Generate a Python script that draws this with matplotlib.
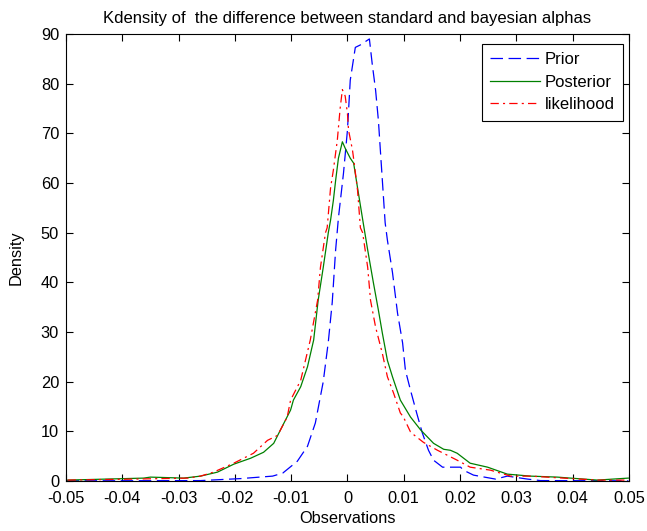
import matplotlib
matplotlib.use("Agg")
import matplotlib.pyplot as plt

plt.rcParams['font.family'] = ['Liberation Sans', 'DejaVu Sans']
plt.rcParams['lines.scale_dashes'] = False

# Prior (blue dashed)
prior_x = [-0.0499, -0.0261, -0.0190, -0.0133, -0.0115, -0.0089, -0.0071, -0.0057,
           -0.0043, -0.0034, -0.0027, -0.0021, -0.0016, -0.0007, 0.0, 0.0005, 0.0014,
           0.0023, 0.0039, 0.0044, 0.0050, 0.0055, 0.0060, 0.0067, 0.0071, 0.0080,
           0.0089, 0.0098, 0.0103, 0.0112, 0.0123, 0.0133, 0.0144, 0.0153, 0.0169,
           0.0201, 0.0206, 0.0224, 0.0263, 0.0284, 0.0320, 0.0343, 0.0499]
prior_y = [0.05, 0.1, 0.5, 1.0, 1.6, 4.0, 7.0, 11.7,
           20.0, 28.0, 36.0, 46.5, 53.0, 62.0, 70.6, 80.7, 87.3,
           87.8, 89.0, 84.0, 78.7, 72.6, 64.0, 52.0, 48.5, 42.0,
           33.8, 27.8, 22.3, 18.3, 13.7, 9.7, 6.2, 4.2, 2.8,
           2.8, 2.2, 1.2, 0.4, 1.0, 0.4, 0.1, 0.05]

# Posterior (green solid)
post_x = [-0.0497, -0.0362, -0.0350, -0.0291, -0.0261, -0.0231, -0.0202, -0.0172,
          -0.0149, -0.0131, -0.0119, -0.0101, -0.0096, -0.0083, -0.0071, -0.0060,
          -0.0052, -0.0043, -0.0034, -0.0030, -0.0025, -0.0021, -0.0016, -0.0009,
          -0.0004, 0.0005, 0.0011, 0.0018, 0.0028, 0.0036, 0.0046, 0.0055, 0.0062,
          0.0071, 0.0080, 0.0094, 0.0112, 0.0130, 0.0153, 0.0171, 0.0183, 0.0195,
          0.0218, 0.0249, 0.0284, 0.0325, 0.0373, 0.0396, 0.0444, 0.0499]
post_y = [0.2, 0.6, 0.8, 0.6, 1.0, 1.8, 3.4, 4.6,
          5.8, 7.6, 10.3, 14.3, 16.3, 19.0, 23.0, 28.4,
          36.4, 43.0, 50.0, 52.5, 56.5, 60.5, 65.0, 68.3,
          67.0, 65.0, 64.0, 59.0, 52.0, 46.5, 40.0, 34.4, 29.8,
          24.3, 21.0, 16.3, 12.9, 10.3, 7.6, 6.4, 6.2, 5.6,
          3.6, 2.8, 1.4, 1.0, 0.8, 0.6, 0.2, 0.6]

# Likelihood (red dash-dot)
like_x = [-0.0497, -0.0380, -0.0284, -0.0261, -0.0238, -0.0202, -0.0167, -0.0142,
          -0.0124, -0.0107, -0.0101, -0.0083, -0.0066, -0.0053, -0.0048, -0.0039,
          -0.0036, -0.0030, -0.0025, -0.0018, -0.0013, -0.0009, -0.0004, 0.0,
          0.0002, 0.0009, 0.0012, 0.0018, 0.0023, 0.0027, 0.0036, 0.0041, 0.0050,
          0.0062, 0.0071, 0.0082, 0.0094, 0.0099, 0.0112, 0.0117, 0.0135, 0.0160,
          0.0195, 0.0218, 0.0254, 0.0290, 0.0325, 0.0384, 0.0444, 0.0499]
like_y = [0.2, 0.4, 0.6, 1.0, 1.8, 3.6, 5.6, 8.2,
          9.2, 12.9, 16.3, 20.3, 28.4, 36.4, 43.0, 50.0,
          51.0, 59.0, 62.6, 68.6, 75.0, 78.8, 77.5, 74.0,
          70.6, 66.6, 64.0, 58.5, 51.0, 50.0, 43.0, 36.4, 31.0,
          25.7, 21.0, 17.7, 13.7, 13.0, 9.9, 9.4, 7.8, 6.2,
          4.2, 2.8, 2.2, 1.0, 1.0, 0.6, 0.2, 0.2]

xticks = [-0.05, -0.04, -0.03, -0.02, -0.01, 0, 0.01, 0.02, 0.03, 0.04, 0.05]
xticklabels = ['-0.05', '-0.04', '-0.03', '-0.02', '-0.01', '0', '0.01', '0.02', '0.03', '0.04', '0.05']
yticks = [0, 10, 20, 30, 40, 50, 60, 70, 80, 90]

fig = plt.figure(figsize=(6.47, 5.31), dpi=100)
ax = fig.add_axes([0.102, 0.094, 0.870, 0.842])

l1, = ax.plot(prior_x, prior_y, color=(0, 0, 1), lw=0.9, label='Prior')
l1.set_dashes((9, 4))
ax.plot(post_x, post_y, color=(0, 0.5, 0), lw=0.9, label='Posterior')
l3, = ax.plot(like_x, like_y, color=(1, 0, 0), lw=0.9, label='likelihood')
l3.set_dashes((6, 3, 1.5, 3))

ax.set_xlim(-0.05, 0.05)
ax.set_ylim(0, 90)
ax.set_xticks(xticks)
ax.set_xticklabels(xticklabels)
ax.set_yticks(yticks)
ax.tick_params(direction='in', top=True, right=True, length=5, width=0.8,
               labelsize=11.8)
ax.tick_params(axis='x', pad=7)
ax.tick_params(axis='y', pad=5)
for s in ax.spines.values():
    s.set_linewidth(0.8)

ax.set_title('Kdensity of  the difference between standard and bayesian alphas', fontsize=12, pad=8)
ax.set_xlabel('Observations', fontsize=11.8, labelpad=4)
ax.set_ylabel('Density', fontsize=11.8, labelpad=12)

leg = ax.legend(loc='upper right', bbox_to_anchor=(0.9893, 0.9776), fontsize=12,
                fancybox=False, framealpha=1, edgecolor='black', borderaxespad=0,
                handlelength=3.0, handletextpad=0.25, labelspacing=0.45,
                borderpad=0.5)
leg.get_frame().set_linewidth(0.8)

fig.savefig('out.png', dpi=100)
